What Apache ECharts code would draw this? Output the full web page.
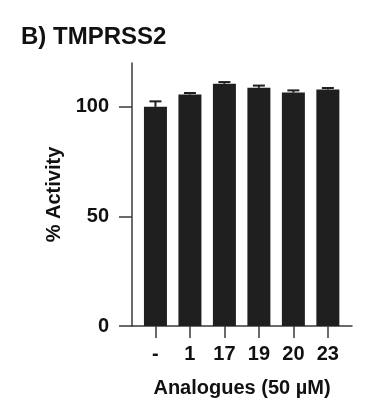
<!DOCTYPE html>
<html>
<head>
<meta charset="utf-8">
<script src="https://cdn.jsdelivr.net/npm/echarts@6/dist/echarts.min.js"></script>
<style>
html,body{margin:0;padding:0;background:#fff;}
#c{width:368px;height:408px;}
</style>
</head>
<body>
<div id="c"></div>
<script>
const categories = ['-', '1', '17', '19', '20', '23'];
const activity = [100.0, 105.6, 110.5, 108.7, 106.5, 107.9];
const errors = [2.5, 0.7, 0.8, 1.0, 1.0, 0.7];
const yTicks = [0, 50, 100];

const FONT = '"Liberation Sans", Arial, sans-serif';
const INK = '#1f1f1f';
const AXIS = '#3a3a3a';
const idx = categories.map((c, i) => i);

const chart = echarts.init(document.getElementById('c'), null, {renderer: 'canvas'});
chart.setOption({
  backgroundColor: '#ffffff',
  animation: false,
  title: {
    text: 'B) TMPRSS2',
    left: 16, top: 20,
    textStyle: {fontFamily: FONT, fontWeight: 'bold', fontSize: 24, color: '#111'}
  },
  grid: {left: 132, right: 16, top: 63, bottom: 82, containLabel: false},
  xAxis: {
    type: 'value',
    min: -0.68, max: 5.7,
    name: 'Analogues (50 µM)',
    nameLocation: 'middle',
    nameGap: 52,
    nameTextStyle: {fontFamily: FONT, fontWeight: 'bold', fontSize: 20, color: '#111'},
    axisLine: {show: true, onZero: false, lineStyle: {color: AXIS, width: 1.5}},
    axisTick: {show: true, length: 12, customValues: idx, lineStyle: {color: AXIS, width: 1.5}},
    axisLabel: {
      customValues: idx,
      margin: 18,
      fontFamily: FONT, fontWeight: 'bold', fontSize: 20, color: '#111',
      formatter: v => categories[Math.round(v)]
    },
    splitLine: {show: false}
  },
  yAxis: {
    type: 'value',
    min: 0, max: 120, interval: 50,
    name: '% Activity',
    nameLocation: 'middle',
    nameGap: 63,
    nameTextStyle: {fontFamily: FONT, fontWeight: 'bold', fontSize: 20, color: '#111'},
    axisLine: {show: true, onZero: false, lineStyle: {color: AXIS, width: 1.5}},
    axisTick: {show: true, length: 13, customValues: yTicks, lineStyle: {color: AXIS, width: 1.5}},
    axisLabel: {
      customValues: yTicks,
      margin: 23,
      fontFamily: FONT, fontWeight: 'bold', fontSize: 20, color: '#111'
    },
    splitLine: {show: false}
  },
  series: [
    {
      type: 'custom',
      z: 1,
      data: idx.map(i => [i, activity[i], errors[i]]),
      renderItem: function (params, api) {
        const x = api.value(0), v = api.value(1), e = api.value(2);
        const p0 = api.coord([x, v]);
        const p1 = api.coord([x, v + e]);
        return {
          type: 'group',
          children: [
            {type: 'line', shape: {x1: p0[0], y1: p0[1], x2: p1[0], y2: p1[1]}, style: {stroke: INK, lineWidth: 2}},
            {type: 'line', shape: {x1: p1[0] - 6, y1: p1[1], x2: p1[0] + 6, y2: p1[1]}, style: {stroke: INK, lineWidth: 2}}
          ]
        };
      }
    },
    {
      type: 'bar',
      z: 2,
      barWidth: 23,
      data: idx.map(i => [i, activity[i]]),
      itemStyle: {color: INK}
    }
  ]
});
</script>
</body>
</html>
